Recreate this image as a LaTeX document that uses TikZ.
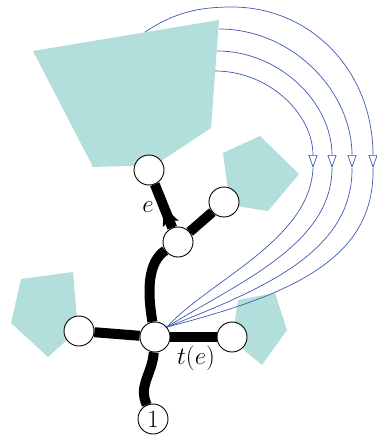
\documentclass[tikz,border=0pt]{standalone}
\usetikzlibrary{arrows.meta,decorations.markings}
\definecolor{regfill}{RGB}{178,223,219}
\definecolor{arcblue}{RGB}{62,88,178}
\pgfdeclarelayer{regions}
\pgfdeclarelayer{edges}
\pgfsetlayers{regions,edges,main}
\begin{document}
\begin{tikzpicture}[x=1pt,y=-1pt,
  vtx/.style={circle,draw=black,fill=white,line width=0.9pt,minimum size=30pt,inner sep=0pt,font=\Huge},
  region/.style={fill=regfill},
  tree/.style={line width=10pt,black},
  flow/.style={arcblue,line width=0.7pt},
  flowtip/.style={flow,-{Triangle[open,length=13pt,width=9pt]}},
  lbl/.style={font=\Huge},
  dirmark/.style={postaction={decorate,decoration={markings,
     mark=at position 12pt with {\fill[black] (11pt,0pt) -- (-8pt,8.5pt) -- (-4pt,0pt) -- (-8pt,-8.5pt) -- cycle;}}}}]
\useasboundingbox (0,0) rectangle (377,436);

% vertices
\node[vtx] (top) at (149,170) {};
\node[vtx] (ur) at (224,202) {};
\node[vtx] (mid) at (178,242) {};
\node[vtx] (lf) at (79,331) {};
\node[vtx] (c) at (155,337) {};
\node[vtx] (rt) at (232,337) {};
\node[vtx] (one) at (153,419) {1};

% labels
\node[lbl] (le) at (148,207) {$e$};
\node[lbl] (lt) at (196,358) {$t(e)$};

\begin{pgfonlayer}{regions}
\fill[region] (33,51) -- (219,20) -- (211,128) -- (155,165) -- (93,167) -- cycle;
\fill[region] (223,153) -- (260,136) -- (299,174) -- (268,211) -- (230,205) -- cycle;
\fill[region] (21,279) -- (73,272) -- (78,330) -- (48,357) -- (11,323) -- cycle;
\fill[region] (238,300) -- (275,293) -- (287,330) -- (262,365) -- (232,340) -- cycle;
\end{pgfonlayer}

\begin{pgfonlayer}{edges}
% tree edges
\draw[tree] (c) -- (lf);
\draw[tree] (c) -- (rt);
\draw[tree] (mid) -- (ur);
\draw[tree] (c) .. controls (147,290) and (148,262) .. (mid);
\draw[tree] (c) .. controls (152,375) and (138,385) .. (one);
\draw[tree,dirmark] (mid) -- (top);

% flow curves
\coordinate (a1) at (313,168);
\coordinate (a2) at (332,168);
\coordinate (a3) at (352,168);
\coordinate (a4) at (373,168);
\coordinate (p1) at (215,71);
\coordinate (p2) at (217,51);
\coordinate (p3) at (219,29);
\coordinate (p4) at (145,32);

\draw[flowtip] (p1) .. controls (269,71) and (313,114) .. (a1);
\draw[flowtip] (p2) .. controls (280,51) and (332,103) .. (a2);
\draw[flowtip] (p3) .. controls (292,29) and (352,91) .. (a3);
\draw[flowtip] (p4) .. controls (175,12) and (200,7) .. (232,7) .. controls (310,7) and (373,70) .. (a4);

\draw[flow] (a1) .. controls (310,240) and (210,280) .. (c.40);
\draw[flow] (a2) .. controls (332,245) and (237,283) .. (c.40);
\draw[flow] (a3) .. controls (353,252) and (263,289) .. (c.40);
\draw[flow] (a4) .. controls (375,260) and (290,295) .. (c.40);
\end{pgfonlayer}
\end{tikzpicture}
\end{document}
